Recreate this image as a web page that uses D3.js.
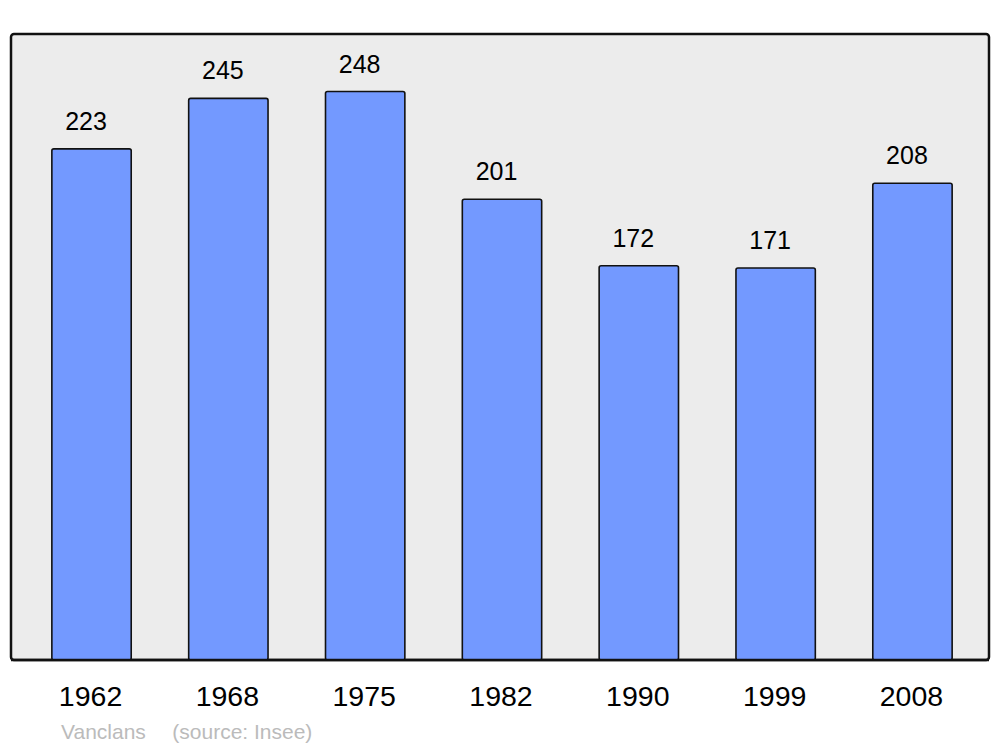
<!DOCTYPE html>
<html>
<head>
<meta charset="utf-8">
<script src="https://cdn.jsdelivr.net/npm/d3@7"></script>
<style>
    body { margin: 0; background: #fff; }
    svg { display: block; font-family: 'Liberation Sans', Arial, sans-serif; }
</style>
</head>
<body>
<div id="chart"></div>
<script>
// population per census year
var years = ['1962', '1968', '1975', '1982', '1990', '1999', '2008'];
var population = [223, 245, 248, 201, 172, 171, 208];
var townName = 'Vanclans';
var sourceNote = '(source: Insee)';

var width = 1000,
    height = 747;

var svg = d3
    .select('#chart')
    .append('svg')
    .attr('width', width)
    .attr('height', height);

var panel = { x: 11, y: 34, w: 978, h: 626 };

var x = d3
    .scaleBand()
    .domain(years)
    .range([13, 991])
    .paddingInner(0.42)
    .paddingOuter(0.284);

var y = d3
    .scaleLinear()
    .domain([0, 273.1])
    .range([panel.y + panel.h, panel.y]);

svg.append('rect')
    .attr('x', panel.x)
    .attr('y', panel.y)
    .attr('width', panel.w)
    .attr('height', panel.h)
    .attr('rx', 3)
    .attr('fill', '#ececec')
    .attr('stroke', '#111')
    .attr('stroke-width', 2.5);

var data = years.map(function(yr, i) {
    return { year: yr, value: population[i] };
});

var bar = svg.selectAll('.bar')
    .data(data)
    .enter()
    .append('g')
    .attr('class', 'bar');

bar.append('rect')
    .attr('x', function(d) { return x(d.year); })
    .attr('y', function(d) { return y(d.value); })
    .attr('width', x.bandwidth())
    .attr('height', function(d) { return y(0) - y(d.value); })
    .attr('rx', 2)
    .attr('fill', '#7399ff')
    .attr('stroke', '#111')
    .attr('stroke-width', 1.6);

// value labels sit a little left of the bar centre in the original
bar.append('text')
    .attr('x', function(d) { return x(d.year) + x.bandwidth() / 2 - 5.5; })
    .attr('y', function(d) { return y(d.value) - 19; })
    .attr('text-anchor', 'middle')
    .attr('font-size', '25px')
    .attr('fill', '#000')
    .text(function(d) { return d.value; });

// redraw the panel bottom edge over the bars
svg.append('line')
    .attr('x1', panel.x)
    .attr('x2', panel.x + panel.w)
    .attr('y1', panel.y + panel.h)
    .attr('y2', panel.y + panel.h)
    .attr('stroke', '#111')
    .attr('stroke-width', 2.5);

var xAxis = svg.append('g')
    .attr('transform', 'translate(0,' + (panel.y + panel.h) + ')')
    .call(d3.axisBottom(x).tickSize(0));

xAxis.select('.domain').remove();
xAxis.selectAll('text')
    .attr('x', -1)
    .attr('y', 46)
    .attr('dy', 0)
    .attr('font-size', '28.5px')
    .attr('font-family', "'Liberation Sans', Arial, sans-serif")
    .attr('fill', '#000');

svg.append('text')
    .attr('x', 61)
    .attr('y', 738.5)
    .attr('font-size', '21px')
    .attr('fill', '#bbbbbb')
    .text(townName);

svg.append('text')
    .attr('x', 172.3)
    .attr('y', 738.5)
    .attr('font-size', '21px')
    .attr('fill', '#bbbbbb')
    .text(sourceNote);
</script>
</body>
</html>
